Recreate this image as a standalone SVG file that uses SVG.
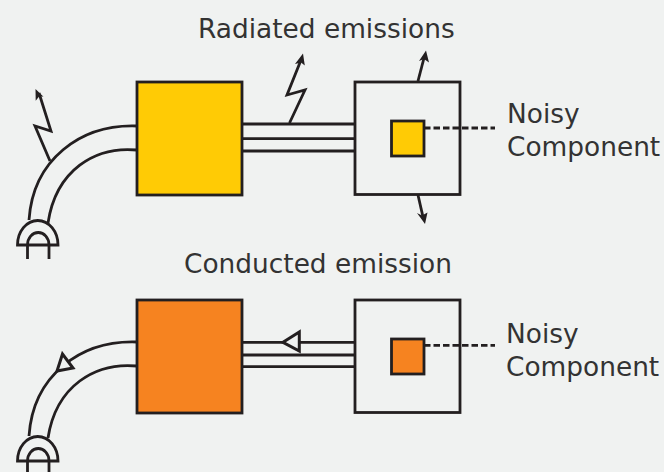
<svg xmlns="http://www.w3.org/2000/svg" width="664" height="472" viewBox="0 0 664 472">
<style>
.l{fill:none;stroke:#231f20;stroke-width:2.8}
.b{fill:none;stroke:#231f20;stroke-width:2.8}
.big{stroke:#231f20;stroke-width:2.8}
.d{fill:none;stroke:#231f20;stroke-width:2.8;stroke-dasharray:6.500 3}
.t{fill:#231f20;stroke:none}
.w{fill:#f0f2f1;stroke:#231f20;stroke-width:3}
text{font-family:"DejaVu Sans",Verdana,sans-serif;font-size:26.400px;fill:#333333}
</style>
<defs>
<g id="plug"><path class="l" d="M17.500 25A20.250 24.500 0 0 1 58 25ZM27.500 39V25A10.750 12.500 0 0 1 49 25V39"/></g>
</defs>
<rect width="664" height="472" fill="#f0f2f1"/>
<g id="labels">
<text x="198" y="38">Radiated emissions</text>
<text x="184" y="273">Conducted emission</text>
</g>
<g id="connectors">
<path class="l" d="M137 126C80 124 33 160 29 220M137 150C95 146 56 170 48 223"/>
<path class="l" d="M242 124H355M242 138.700H355M242 151H355"/>
<path class="l" d="M50 161L35 126L51 131L39 93"/>
<path class="t" d="M35.500 89L43.500 96.700L39.500 96L35.700 100.700Z"/>
<path class="l" d="M289.500 123L305 90L287 95L301 60"/>
<path class="t" d="M303 53.500L304.800 65.500L301 62.500L295 64Z"/>
<path class="l" d="M418 81L424 58"/>
<path class="t" d="M426 50.500L429 62.500L424 59L419 61Z"/>
<path class="l" d="M418 195L423 217"/>
<path class="t" d="M425 224L417 213L422 215.500L427.500 212.500Z"/>
<path class="d" d="M424 128H495"/>
<path class="l" d="M137 342C80 340 33 376 29 436M137 366C95 362 56 386 48 438"/>
<path class="l" d="M242 342.300H355M242 355H355M242 366.700H355"/>
<path class="d" d="M424 345.300H495"/>
<path class="w" d="M62.500 354L57 371L73 368Z"/>
<path class="w" d="M283 342.300L299.300 332V351Z"/>
</g>
<g id="plug-top"><use href="#plug" y="220"/></g>
<g id="plug-bottom"><use href="#plug" y="436"/></g>
<g id="yellow-box"><rect class="big" x="137" y="82" width="105" height="113" fill="#ffcb05"/></g>
<g id="top-enclosure"><rect class="b" x="355" y="82" width="105" height="112.500"/></g>
<g id="top-component"><rect class="big" x="391.500" y="121" width="32.500" height="35" fill="#ffcb05"/></g>
<g id="top-noisy"><text x="507" y="123">Noisy</text><text x="507" y="156">Component</text></g>
<g id="orange-box"><rect class="big" x="137" y="300" width="105" height="113" fill="#f68320"/></g>
<g id="bottom-enclosure"><rect class="b" x="355" y="300" width="105" height="112.500"/></g>
<g id="bottom-component"><rect class="big" x="391.500" y="339" width="32.500" height="35" fill="#f68320"/></g>
<g id="bottom-noisy"><text x="506" y="343">Noisy</text><text x="506" y="376">Component</text></g>
</svg>
